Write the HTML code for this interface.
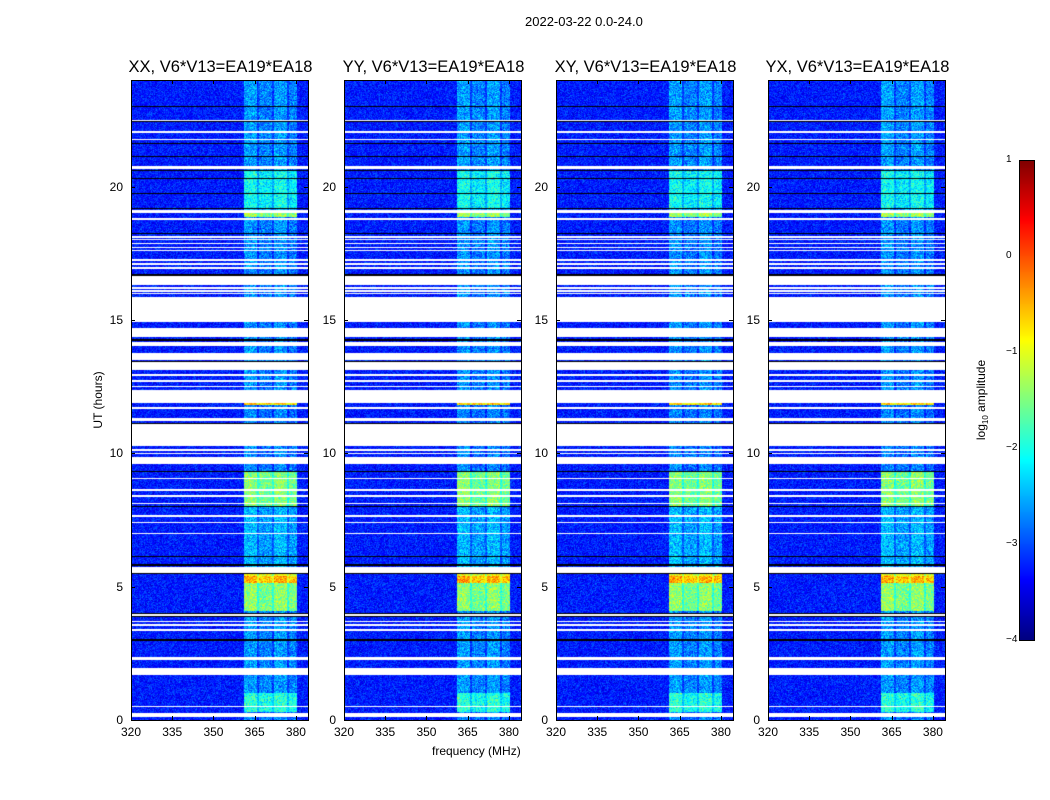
<!DOCTYPE html>
<html><head><meta charset="utf-8">
<style>
body{margin:0;background:#fff;width:1050px;height:800px;position:relative;overflow:hidden;font-family:"Liberation Sans",sans-serif;}
.t{position:absolute;font-size:12px;color:#000;white-space:nowrap}
.title{position:absolute;font-size:16.5px;white-space:nowrap;transform:translateX(-50%)}
canvas{position:absolute}
.frame{position:absolute;border:1px solid #000;box-sizing:border-box}
.tick{position:absolute;background:#000}
</style></head><body>
<div class="t" style="left:525px;top:14px;font-size:13px">2022-03-22 0.0-24.0</div>
<div id="root"></div>
<div class="t" style="left:432px;top:744px;font-size:12px">frequency (MHz)</div>
<div class="t" style="left:98px;top:400px;transform:translate(-50%,-50%) rotate(-90deg)">UT (hours)</div>
<canvas id="cb" width="15" height="480" style="left:1019px;top:160px"></canvas>
<div class="frame" style="left:1019px;top:160px;width:16px;height:481px"></div>
<div class="t" style="left:982px;top:400px;transform:translate(-50%,-50%) rotate(-90deg)">log<sub style="font-size:8px">10</sub> amplitude</div>
<div id="cbt"></div>
<script>
const panelNames=["XX, V6*V13=EA19*EA18","YY, V6*V13=EA19*EA18","XY, V6*V13=EA19*EA18","YX, V6*V13=EA19*EA18"];
const panelLefts=[131,344,556,768];
const xTicks=[320,335,350,365,380];
const yTicks=[0,5,10,15,20];
const cbTicks=[1,0,-1,-2,-3,-4];
// flagged (white) time intervals, hours
const gapStart=[22.42,22.0,21.75,20.66,19.0,18.74,16.31,15.0,14.36,14.02,13.5,13.12,11.89,10.27,9.6,5.51,2.25,1.69,0.11];
const gapEnd=[22.5,22.08,21.8,20.78,19.13,18.83,16.69,15.86,14.7,14.17,13.76,13.42,12.37,11.14,9.86,5.74,2.36,1.95,0.26];
// single flagged rows (thin white lines), hours
const thinLines=[18.12,18.02,17.87,17.72,17.6,17.25,17.1,16.94,16.19,16.09,16.0,14.96,12.94,12.71,12.5,11.69,11.31,11.25,10.12,10.0,9.06,8.62,8.41,8.12,7.65,7.4,7.0,3.94,3.69,3.56,3.37,0.5];
// black boundary lines, hours
const blackLines=[23.0,22.43,21.62,21.12,20.62,20.31,19.75,19.19,18.25,16.69,14.25,13.43,11.13,9.31,8.0,6.12,5.81,5.5,4.0,3.87,3.0];
// RFI subbands (MHz)
const bandLo=[361,366.6,372.2,377.6];
const bandHi=[365.8,371.3,376.8,380.4];
// RFI level segments (hours, log10 amp)
const segStart=[0,0.3,1.0,4.1,5.15,5.4,5.75,8.0,9.3,11.8,11.9,18.85,19.0,19.2,20.6];
const segEnd=[0.3,1.0,4.1,5.15,5.4,5.5,8.0,9.3,11.8,11.9,18.85,19.0,19.2,20.6,24];
const segLevel=[-2.7,-1.9,-2.6,-1.4,-0.45,-0.9,-2.45,-1.45,-2.7,-0.6,-2.65,-1.3,-2.4,-2.05,-2.6];
const background=-3.25;
const fMin=320,fMax=384.4,tMax=24,W=177,H=640,TOP=80;
const xs=f=>(f-fMin)/(fMax-fMin)*W;
const ys=h=>H-h/tMax*H;
function jet(t){t=Math.max(0,Math.min(1,t));const c=x=>Math.round(255*Math.max(0,Math.min(1,x)));
return [c(1.5-Math.abs(4*t-3)),c(1.5-Math.abs(4*t-2)),c(1.5-Math.abs(4*t-1))];}
function hash(a,b,s){let h=(a*374761393+b*668265263+s*2147483647)|0;h=(h^(h>>>13))*1274126177|0;return ((h^(h>>>16))>>>0)/4294967296;}
const root=document.getElementById('root');
function add(html){root.insertAdjacentHTML('beforeend',html);}
panelLefts.forEach((L,pi)=>{
  const cv=document.createElement('canvas');cv.width=W;cv.height=H;cv.style.left=L+'px';cv.style.top=TOP+'px';
  
  
  root.appendChild(cv);
  const ctx=cv.getContext('2d');const img=ctx.createImageData(W,H);
  for(let py=0;py<H;py++){
    const h=(H-py-0.5)/H*tMax;
    let white=false,black=false;
    for(let i=0;i<gapStart.length;i++) if(h>=gapStart[i]&&h<=gapEnd[i]) white=true;
    for(const t of thinLines) if(Math.abs(ys(t)-py-0.5)<0.8) white=true;
    for(const t of blackLines) if(Math.abs(ys(t)-py-0.5)<0.6) black=true;
    let lvl=-2.6;for(let i=0;i<segStart.length;i++) if(h>=segStart[i]&&h<segEnd[i]) lvl=segLevel[i];
    for(let px=0;px<W;px++){
      const k=(py*W+px)*4;let rgb;
      if(black) rgb=[0,0,0]; else if(white) rgb=[255,255,255]; else {
        const f=fMin+(px+0.5)/W*(fMax-fMin);
        const n=hash(px,py,pi)+hash(px+7,py+3,pi+1)-1;
        let v=background+n*0.45;
        let inB=-1;for(let b=0;b<bandLo.length;b++) if(f>=bandLo[b]&&f<=bandHi[b]) inB=b;
        if(inB>=0) v=lvl+(inB%2?-0.15:0)+n*0.6;
        else if(f>bandLo[0]&&f<bandHi[3]) v=Math.max(v,lvl-0.5+n*0.4);
        rgb=jet((v+4)/5);
      }
      img.data[k]=rgb[0];img.data[k+1]=rgb[1];img.data[k+2]=rgb[2];img.data[k+3]=255;
    }
  }
  ctx.putImageData(img,0,0);
  add(`<div class="frame" style="left:${L}px;top:${TOP}px;width:${W+1}px;height:${H+1}px"></div>`);
  add(`<div class="title" style="left:${L+W/2+1}px;top:58px">${panelNames[pi]}</div>`);
  xTicks.forEach(v=>{const x=L+xs(v);
    add(`<div class="tick" style="left:${x}px;top:${TOP+H-4}px;width:1px;height:4px"></div><div class="tick" style="left:${x}px;top:${TOP}px;width:1px;height:4px"></div>`);
    add(`<div class="t" style="left:${x}px;top:${TOP+H+5}px;transform:translateX(-50%)">${v}</div>`);});
  yTicks.forEach(v=>{const y=TOP+ys(v);
    add(`<div class="tick" style="left:${L}px;top:${y}px;width:4px;height:1px"></div><div class="tick" style="left:${L+W-4}px;top:${y}px;width:4px;height:1px"></div>`);
    add(`<div class="t" style="left:${L-8}px;top:${y-7}px;transform:translateX(-100%)">${v}</div>`);});
});
const cb=document.getElementById('cb').getContext('2d');
for(let y=0;y<480;y++){const c=jet(1-(y+0.5)/480);cb.fillStyle=`rgb(${c})`;cb.fillRect(0,y,15,1);}
const cbt=document.getElementById('cbt');
cbTicks.forEach(v=>{const y=160+(1-v)/5*480;
  cbt.insertAdjacentHTML('beforeend',`<div class="t" style="left:1006px;top:${y-6}px;font-size:10px">${v<0?'\u2212'+(-v):v}</div>`);});
</script>
</body></html>
